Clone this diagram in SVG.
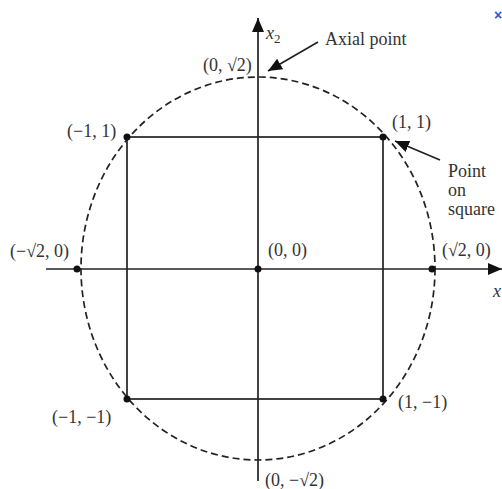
<svg xmlns="http://www.w3.org/2000/svg" width="502" height="489" viewBox="0 0 502 489">
<defs>
<style>
.ln{stroke:#222;stroke-width:1.7;fill:none}
.dash{stroke:#222;stroke-width:1.7;fill:none;stroke-dasharray:7 4}
.dot{fill:#111}
text{font-family:"Liberation Serif","Times New Roman",serif;font-size:18px;fill:#333}
.it{font-style:italic}
</style>
<marker id="ah" markerUnits="userSpaceOnUse" markerWidth="16" markerHeight="14" refX="14" refY="6" orient="auto">
<path d="M0,0 L14,6 L0,12 Z" fill="#111"/>
</marker>
</defs>
<rect width="502" height="489" fill="#fff"/>
<g id="connectors">
<line class="ln" x1="258" y1="481" x2="258" y2="18" marker-end="url(#ah)"/>
<line class="ln" x1="46" y1="269" x2="502" y2="269" marker-end="url(#ah)"/>
<line class="ln" x1="318" y1="42" x2="268" y2="71" marker-end="url(#ah)"/>
<line class="ln" x1="440" y1="160" x2="395" y2="141" marker-end="url(#ah)"/>
</g>
<g id="circle"><ellipse class="dash" cx="258" cy="268.5" rx="177" ry="191.5"/></g>
<g id="square"><rect class="ln" x="127" y="137" width="256" height="262"/></g>
<g id="p-axial-top"><text x="203" y="71">(0, √2)</text></g>
<g id="p-m1-1"><circle class="dot" cx="127" cy="137" r="3.5"/><text x="67" y="137">(−1, 1)</text></g>
<g id="p-1-1"><circle class="dot" cx="383" cy="137" r="3.5"/><text x="392" y="128">(1, 1)</text></g>
<g id="p-axial-left"><circle class="dot" cx="77" cy="269" r="3.5"/><text x="10" y="257">(−√2, 0)</text></g>
<g id="p-center"><circle class="dot" cx="258" cy="269" r="3.5"/><text x="268" y="256">(0, 0)</text></g>
<g id="p-axial-right"><circle class="dot" cx="432" cy="269" r="3.5"/><text x="442" y="256">(√2, 0)</text></g>
<g id="p-m1-m1"><circle class="dot" cx="127" cy="399" r="3.5"/><text x="52" y="423">(−1, −1)</text></g>
<g id="p-1-m1"><circle class="dot" cx="383" cy="399" r="3.5"/><text x="398" y="408">(1, −1)</text></g>
<g id="p-axial-bottom"><text x="265" y="486">(0, −√2)</text></g>
<g id="lbl-x2"><text class="it" x="266" y="39">x<tspan font-size="13" font-style="normal" dy="4">2</tspan></text></g>
<g id="lbl-x1"><text class="it" x="493" y="297">x</text></g>
<g id="lbl-axial"><text x="325" y="45">Axial point</text></g>
<g id="lbl-square"><text x="448" y="177">Point</text><text x="448" y="196">on</text><text x="448" y="215">square</text></g>
<g id="close"><text x="494" y="20" style="font-family:'Liberation Sans',sans-serif;font-size:14px;fill:#2a5bd7;font-weight:bold">×</text></g>
</svg>
